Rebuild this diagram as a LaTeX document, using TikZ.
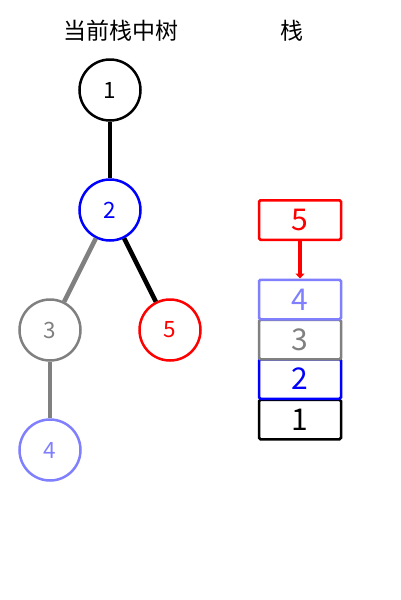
\documentclass[tikz,border=0pt]{standalone}
\usepackage{fontspec}
\setmainfont{Noto Sans CJK SC}
\newfontfamily\cjk{Noto Sans CJK SC}
\definecolor{lblue}{RGB}{128,128,255}
\definecolor{mgray}{RGB}{128,128,128}
\usetikzlibrary{arrows.meta}
\begin{document}
\begin{tikzpicture}[x=1pt,y=-1pt,
  tnode/.style={circle,draw,line width=2.5pt,minimum size=61pt,inner sep=0pt,font=\fontsize{22.5}{22.5}\selectfont},
  sbox/.style={draw,line width=2.5pt,minimum width=82pt,minimum height=39.5pt,inner sep=0pt,rounded corners=1.5pt,font=\fontsize{30}{30}\selectfont},
  edge/.style={line width=4.5pt},
  title/.style={font=\cjk\fontsize{23}{23}\selectfont}]
\useasboundingbox (0,0) rectangle (400,600);
\node[title] (t1) at (121,31) {当前栈中树};
\node[title] (t2) at (292,31) {栈};
\node[tnode,black] (n1) at (110,90) {1};
\node[tnode,blue] (n2) at (110,210) {2};
\node[tnode,mgray] (n3) at (50,330) {3};
\node[tnode,red] (n5) at (170,330) {5};
\node[tnode,lblue] (n4) at (50,450) {4};
\draw[edge,black] (n1) -- (n2);
\draw[edge,mgray] (n2) -- (n3);
\draw[edge,black] (n2) -- (n5);
\draw[edge,mgray] (n3) -- (n4);
\node[sbox,black] (s1) at (300,419.5) {1};
\node[sbox,blue] (s2) at (300,379) {2};
\node[sbox,mgray] (s3) at (300,339.5) {3};
\node[sbox,lblue] (s4) at (300,299.5) {4};
\node[sbox,red] (s5) at (300,220) {5};
\draw[red,line width=3.5pt,-{Triangle[length=5pt,width=9pt]}] (s5) -- (s4);
\end{tikzpicture}
\end{document}
